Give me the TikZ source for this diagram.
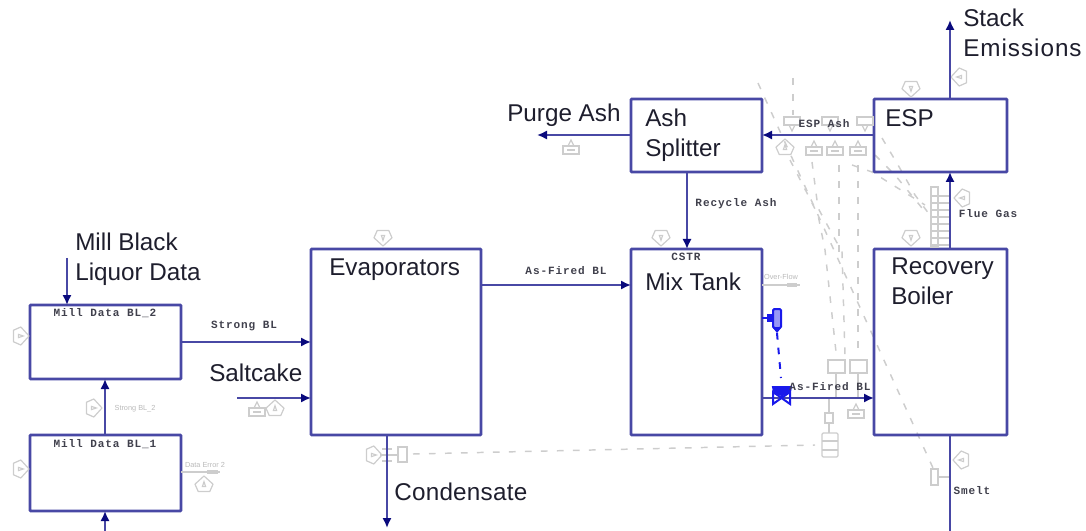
\documentclass[tikz,border=0pt]{standalone}
\usepackage{fontspec}
\setmainfont{Liberation Sans}
\setmonofont{Liberation Mono}
\usetikzlibrary{arrows.meta}
\definecolor{flowline}{RGB}{72,72,165}
\definecolor{tipnavy}{RGB}{10,10,125}
\definecolor{ghost}{RGB}{205,205,205}
\definecolor{ctrl}{RGB}{25,25,235}
\definecolor{inkdark}{RGB}{30,30,45}
\newfontfamily\pixfont[LetterSpace=8]{Liberation Mono Bold}
\tikzset{
  x=0.75pt,y=-0.75pt,
  blockbox/.style={draw=flowline,line width=1.9pt,rounded corners=0.5pt,inner sep=0,outer sep=0},
  stream/.style={draw=flowline,line width=1.9pt},
  feed/.style={stream,-{Latex[length=7.5pt,width=7pt,color=tipnavy]}},
  bigtext/.style={font=\fontsize{18.2}{22.5}\selectfont,text=inkdark,align=left,inner sep=0,anchor=west},
  monotext/.style={font=\fontsize{8.3}{10}\pixfont,text=inkdark!85,inner sep=0},
  faint/.style={font=\fontsize{5.5}{6}\selectfont,text=ghost!90!black,inner sep=0},
  ghostline/.style={draw=ghost,line width=0.9pt},
  ghostdash/.style={draw=ghost,line width=1.1pt,dash pattern=on 5pt off 7pt},
  ctrlline/.style={draw=ctrl,line width=1.5pt},
  tagsym/.pic={\draw[ghostline,line join=round] (-7,-8)--(7,-8)--(11,1)--(0,11)--(-11,1)--cycle; \draw[ghostline] (-2,-2)--(2,-2)--(0,4)--cycle;},
  minibox/.pic={\draw[ghostline] (-8,-4) rectangle (8,4); \draw[ghostline] (-3,-4)--(0,-10)--(3,-4); \draw[ghostline] (-4,0)--(4,0);},
  topbox/.pic={\draw[ghostline] (-8,-4) rectangle (8,4); \draw[ghostline] (-3,4)--(0,10)--(3,4);},
}
\begin{document}
\begin{tikzpicture}
\useasboundingbox (0,0) rectangle (1086,531);
% dashed signal lines
\draw[ghostdash] (758,83)--(933,468);
\draw[ghostdash] (793,78)--(793,115);
\draw[ghostdash] (790,160)--(808,195)--(818,215)--(825,250)--(836,352);
\draw[ghostdash] (812,162)--(818,208)--(842,252)--(845,355);
\draw[ghostdash] (839,165)--(839,255);
\draw[ghostdash] (858,165)--(858,355);
\draw[ghostdash] (852,165)--(872,172)--(888,182)--(925,205);
\draw[ghostdash] (882,138)--(898,165)--(915,195)--(932,218);
\draw[ghostdash] (875,155)--(895,175)--(922,208);
\draw[ghostdash] (413,454)--(815,445);
% blocks
\node[blockbox,minimum width=113.25pt,minimum height=55.5pt,anchor=north west] (mill2) at (30,305) {};
\node[blockbox,minimum width=113.25pt,minimum height=57pt,anchor=north west] (mill1) at (30,435) {};
\node[blockbox,minimum width=127.5pt,minimum height=139.5pt,anchor=north west] (evap) at (311,249) {};
\node[blockbox,minimum width=98.25pt,minimum height=139.5pt,anchor=north west] (mix) at (631,249) {};
\node[blockbox,minimum width=98.25pt,minimum height=54.75pt,anchor=north west] (split) at (631,99) {};
\node[blockbox,minimum width=99.75pt,minimum height=54.75pt,anchor=north west] (esp) at (874,99) {};
\node[blockbox,minimum width=99.75pt,minimum height=139.5pt,anchor=north west] (boiler) at (874,249) {};
% free ends and stream positions
\coordinate (millin) at (67,258);
\coordinate (milltop) at (67,305);
\coordinate (c105) at (105,400);
\coordinate (bot105) at (105,531);
\coordinate (strongy) at (200,342);
\coordinate (salt) at (237,398);
\coordinate (cond) at (387,528);
\coordinate (afy) at (500,285);
\coordinate (c687) at (687,200);
\coordinate (purge) at (537,135);
\coordinate (ashy) at (800,135);
\coordinate (c950) at (950,210);
\coordinate (stack) at (950,20);
\coordinate (y398) at (800,398);
\coordinate (smelt) at (950,531);
% faint items under the streams
\foreach \px/\py/\ang in {20/336/90,20/469/90,383/237/0,661/237/0,911/88/0,911/237/0,960/77/-90,962/460/-90,963/198/-90,93/408/90,204/485/180,275/409/180,373/455/90,785/148/180}
  \pic[rotate=\ang,scale=0.82] at (\px,\py) {tagsym};
\foreach \px/\py in {257/412,571/150,814/151,835/151,858/151,856/414}
  \pic at (\px,\py) {minibox};
\foreach \px in {792,830,865}
  \pic at (\px,121) {topbox};
\draw[ghostline] (828,360) rectangle (845,373);
\draw[ghostline] (850,360) rectangle (867,373);
\draw[ghostline] (836,373)--(836,398);
\draw[ghostline] (858,373)--(858,398);
\draw[ghostline] (829,398)--(829,413);
\draw[ghostline] (825,413) rectangle (833,423);
\draw[ghostline] (829,423)--(829,433);
\draw[ghostline,rounded corners=1pt] (822,433) rectangle (838,457);
\draw[ghostline] (822,441)--(838,441);
\draw[ghostline] (822,450)--(838,450);
\draw[ghostline] (398,447) rectangle (407,462);
\draw[ghostline] (380,455)--(398,455);
\draw[ghostline] (382,449)--(392,449);
\draw[ghostline] (382,461)--(392,461);
\draw[ghostline] (931,469) rectangle (938,485);
\draw[ghostline] (938,477)--(950,477);
\draw[ghostline] (931,187) rectangle (938,247);
\foreach \py in {196,203,210,217,224,231,238,245}{
  \draw[ghostline] (931,\py)--(950,\py);
}
\draw[ghostline] (181,472)--(220,472);
\fill[ghost] (207,470) rectangle (218,474);
\draw[ghostline] (762,285)--(800,285);
\fill[ghost] (787,283) rectangle (797,287);
% streams
\draw[feed] (millin)--(milltop);
\draw[feed] (c105 |- mill1.north)--(c105 |- mill2.south);
\draw[feed] (bot105)--(c105 |- mill1.south);
\draw[feed] (mill2.east |- strongy)--(evap.west |- strongy);
\draw[feed] (salt)--(evap.west |- salt);
\draw[feed] (evap.south -| cond)--(cond);
\draw[feed] (evap.east |- afy)--(mix.west |- afy);
\draw[feed] (c687 |- split.south)--(c687 |- mix.north);
\draw[feed] (split.west |- purge)--(purge);
\draw[feed] (esp.west |- ashy)--(split.east |- ashy);
\draw[feed] (c950 |- boiler.north)--(c950 |- esp.south);
\draw[feed] (c950 |- esp.north)--(stack);
\draw[feed] (mix.east |- y398)--(boiler.west |- y398);
\draw[stream] (c950 |- boiler.south)--(smelt);
% controller and valve
\draw[ctrlline,dash pattern=on 5pt off 6pt] (777,333)--(781,378);
\draw[ctrlline] (762,318)--(773,318);
\fill[ctrl] (767,314) rectangle (774,322);
\draw[ctrlline,fill=ctrl!45,rounded corners=1pt] (773,309) rectangle (781,328);
\fill[ctrl] (773,328)--(781,328)--(777,333)--cycle;
\draw[ctrlline,fill=ctrl] (773,387) arc[start angle=180,end angle=0,x radius=9,y radius=8]--cycle;
\draw[ctrlline] (782,387)--(782,398);
\draw[ctrlline] (773,392)--(773,404)--(790,392)--(790,404)--cycle;
% big labels
\node[bigtext] (lstack) at (963,33) {Stack\\{\addfontfeature{LetterSpace=4}Emissions}};
\node[bigtext] (lpurge) at (507,115) {Purge Ash};
\node[bigtext] (lsplit) at (645,135) {Ash\\Splitter};
\node[bigtext] (lesp) at (885,118) {ESP};
\node[bigtext] (lboiler) at (891,281) {Recovery\\Boiler};
\node[bigtext] (lmix) at (645,282) {Mix Tank};
\node[bigtext] (levap) at (329,270) {Evaporators};
\node[bigtext] (lsalt) at (209,373) {Saltcake};
\node[bigtext] (lcond) at (394,492) {\addfontfeature{LetterSpace=1}Condensate};
\node[bigtext] (lmill) at (75,259) {Mill Black\\Liquor Data};
% stream labels
\node[monotext] (m2) at (105,313) {Mill Data BL\_2};
\node[monotext] (m1) at (105,444) {Mill Data BL\_1};
\node[monotext] (s1) at (244,326) {Strong BL};
\node[monotext] (a1) at (566,271) {As-Fired BL};
\node[monotext] (r1) at (736,204) {Recycle Ash};
\node[monotext] (c1) at (686,257) {CSTR};
\node[monotext] (e1) at (824,124) {ESP Ash};
\node[monotext] (f1) at (988,214) {Flue Gas};
\node[monotext] (a2) at (830,387) {As-Fired BL};
\node[monotext] (s2) at (972,491) {Smelt};
% faint labels
\node[faint] (g1) at (135,409) {Strong BL\_2};
\node[faint] (g2) at (205,465) {Data Error 2};
\node[faint] (g3) at (781,277) {Over-Flow};
\end{tikzpicture}
\end{document}
